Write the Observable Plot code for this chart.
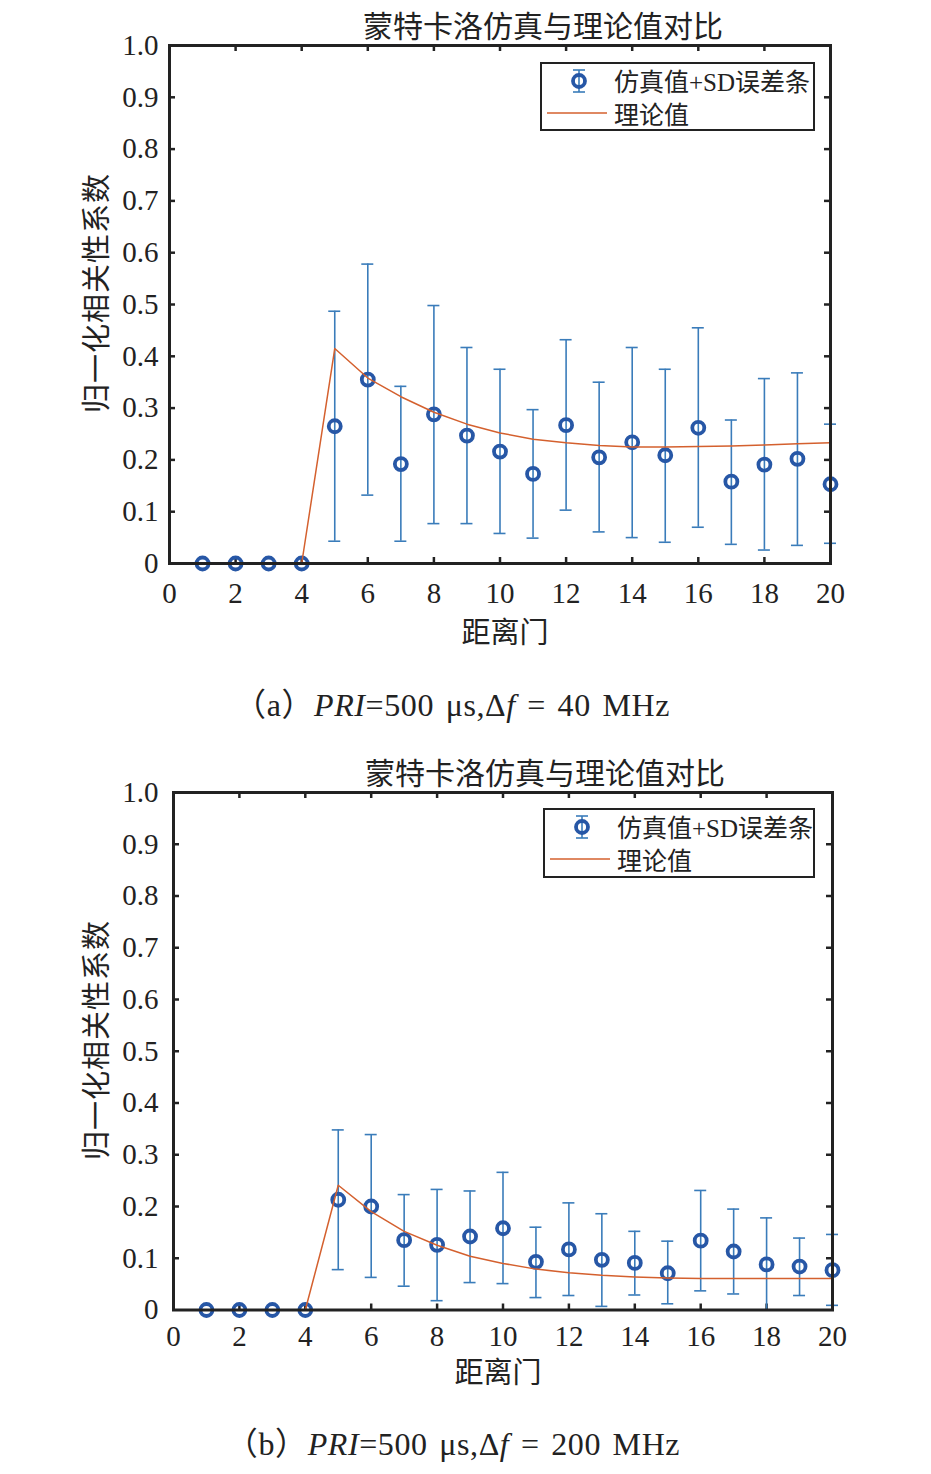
<!DOCTYPE html>
<html>
<head>
<meta charset="utf-8">
<script src="https://cdn.jsdelivr.net/npm/d3@7"></script>
<script src="https://cdn.jsdelivr.net/npm/@observablehq/plot@0.6"></script>
<style>
  html, body { margin: 0; padding: 0; background: #fff; }
  #page { position: relative; width: 931px; height: 1474px; background: #fff; overflow: hidden;
          font-family: 'Liberation Serif', 'Noto Sans CJK SC', serif; color: #222; }
  .abs { position: absolute; white-space: nowrap; line-height: 1; }
  .ctr { transform: translate(-50%, -50%); }
  .cjk { font-family: 'Noto Sans CJK SC', sans-serif; }
  .legend { position: absolute; box-sizing: border-box; border: 2.5px solid #222; background: #fff; }
  .legend .lab { position: absolute; font-size: 25px; line-height: 1; white-space: nowrap; transform: translateY(-50%); }
  .legend svg { position: absolute; left: 0; top: 0; overflow: visible; }
</style>
</head>
<body>
<div id="page"></div>
<script>
// ---------- data ----------
const gates = [1,2,3,4,5,6,7,8,9,10,11,12,13,14,15,16,17,18,19,20];
const xTicks = [0,2,4,6,8,10,12,14,16,18,20];
const yTicks = [0,0.1,0.2,0.3,0.4,0.5,0.6,0.7,0.8,0.9,1.0];
const yTickLabels = ["0","0.1","0.2","0.3","0.4","0.5","0.6","0.7","0.8","0.9","1.0"];

// (a) PRI=500 µs, Δf = 40 MHz
const simA    = [0,0,0,0,0.265,0.355,0.192,0.288,0.247,0.216,0.173,0.267,0.205,0.234,0.209,0.262,0.158,0.191,0.202,0.153];
const hiA     = [0,0,0,0,0.487,0.578,0.342,0.498,0.417,0.375,0.297,0.432,0.350,0.417,0.375,0.455,0.277,0.357,0.368,0.269];
const loA     = [0,0,0,0,0.043,0.132,0.043,0.077,0.077,0.058,0.049,0.103,0.061,0.050,0.041,0.070,0.037,0.026,0.035,0.039];
const theoryA = [0,0,0,0,0.415,0.358,0.322,0.292,0.269,0.252,0.240,0.233,0.228,0.225,0.225,0.226,0.227,0.229,0.231,0.233];

// (b) PRI=500 µs, Δf = 200 MHz
const simB    = [0,0,0,0,0.213,0.200,0.135,0.126,0.142,0.158,0.093,0.117,0.097,0.091,0.071,0.134,0.113,0.088,0.084,0.077];
const hiB     = [0,0,0,0,0.348,0.339,0.223,0.233,0.230,0.266,0.160,0.207,0.186,0.152,0.133,0.231,0.195,0.178,0.139,0.146];
const loB     = [0,0,0,0,0.078,0.063,0.046,0.018,0.053,0.051,0.024,0.028,0.007,0.029,0.012,0.037,0.031,0.000,0.028,0.009];
const theoryB = [0,0,0,0,0.241,0.190,0.152,0.125,0.104,0.090,0.079,0.072,0.067,0.064,0.062,0.061,0.061,0.061,0.061,0.061];

const titleText = "蒙特卡洛仿真与理论值对比";
const xLabel = "距离门";
const yLabel = "归一化相关性系数";
const legendTheory = "理论值";

// ---------- styles ----------
const C_BAR = "#3a7cba";
const C_DOT = "#2757a6";
const C_LINE = "#d4602e";
const C_AX = "#222";
const FONT = "'Liberation Serif', 'Noto Sans CJK SC', serif";

const page = document.getElementById("page");

function addDiv(html, cls, style) {
  const d = document.createElement("div");
  d.className = cls;
  Object.assign(d.style, style);
  d.innerHTML = html;
  page.appendChild(d);
  return d;
}

function panel(cfg) {
  const rows = gates.map((g, i) => ({x: g, m: cfg.sim[i], hi: cfg.hi[i], lo: cfg.lo[i], t: cfg.theory[i]}));
  const bars = rows.filter(d => d.hi > d.lo);
  const W = 931, H = 650;
  const plotW = W - cfg.ml - cfg.mr, plotH = H - cfg.mt - cfg.mb;
  const tx = 6 * 20 / plotW;      // 6px inward tick in x data units
  const ty = 6 / plotH;           // 6px inward tick in y data units
  const cap = 6 * 20 / plotW;     // cap half-width
  const innerX = xTicks.slice(1, -1), innerY = yTicks.slice(1, -1);

  const svg = Plot.plot({
    width: W, height: H,
    marginLeft: cfg.ml, marginRight: cfg.mr, marginTop: cfg.mt, marginBottom: cfg.mb,
    style: {fontFamily: FONT, background: "transparent", color: C_AX, overflow: "visible"},
    x: {domain: [0, 20]},
    y: {domain: [0, 1]},
    marks: [
      Plot.ruleX(innerX, {x: d => d, y1: 0, y2: ty, stroke: C_AX, strokeWidth: 2.5}),
      Plot.ruleX(innerX, {x: d => d, y1: 1, y2: 1 - ty, stroke: C_AX, strokeWidth: 2.5}),
      Plot.ruleY(innerY, {y: d => d, x1: 0, x2: tx, stroke: C_AX, strokeWidth: 2.5}),
      Plot.ruleY(innerY, {y: d => d, x1: 20, x2: 20 - tx, stroke: C_AX, strokeWidth: 2.5}),
      Plot.axisX(xTicks, {tickSize: 0, tickPadding: cfg.xpad, fontSize: 29, label: null, tickFormat: d => String(d)}),
      Plot.axisY(yTicks, {tickSize: 0, tickPadding: cfg.ypad, fontSize: 29, label: null, tickFormat: (d, i) => yTickLabels[i]}),
      Plot.ruleX(bars, {x: "x", y1: "lo", y2: "hi", stroke: C_BAR, strokeWidth: 1.6}),
      Plot.ruleY(bars, {y: "hi", x1: d => d.x - cap, x2: d => d.x + cap, stroke: C_BAR, strokeWidth: 1.6}),
      Plot.ruleY(bars, {y: "lo", x1: d => d.x - cap, x2: d => d.x + cap, stroke: C_BAR, strokeWidth: 1.6}),
      Plot.dot(rows, {x: "x", y: "m", r: 6, stroke: C_DOT, strokeWidth: 3.8, fill: "none"}),
      Plot.line(rows, {x: "x", y: "t", stroke: C_LINE, strokeWidth: 1.5}),
      Plot.frame({stroke: C_AX, strokeWidth: 3})
    ]
  });
  const holder = document.createElement("div");
  holder.style.position = "absolute";
  holder.style.left = "0px";
  holder.style.top = cfg.top + "px";
  holder.appendChild(svg);
  page.appendChild(holder);

  addDiv(titleText, "abs ctr cjk", {left: cfg.title[0] + "px", top: cfg.title[1] + "px", fontSize: "30px"});
  addDiv(xLabel, "abs ctr cjk", {left: cfg.xlab[0] + "px", top: cfg.xlab[1] + "px", fontSize: "29px"});
  addDiv(yLabel, "abs cjk", {left: cfg.ylab[0] + "px", top: cfg.ylab[1] + "px", fontSize: "29px",
    transform: "translate(-50%, -50%) rotate(-90deg)", letterSpacing: "1px"});
  addDiv(cfg.caption, "abs ctr", {left: cfg.cap[0] + "px", top: cfg.cap[1] + "px", fontSize: "32px", wordSpacing: "3px", letterSpacing: "0.6px"});

  const lg = addDiv("", "legend", {left: cfg.leg[0] + "px", top: cfg.leg[1] + "px", width: cfg.leg[2] + "px", height: cfg.leg[3] + "px"});
  lg.innerHTML =
    `<svg width="${cfg.leg[2]}" height="${cfg.leg[3]}">
       <line x1="37" x2="37" y1="6" y2="28" stroke="${C_BAR}" stroke-width="1.6"/>
       <line x1="31" x2="43" y1="6" y2="6" stroke="${C_BAR}" stroke-width="1.6"/>
       <line x1="31" x2="43" y1="28" y2="28" stroke="${C_BAR}" stroke-width="1.6"/>
       <circle cx="37" cy="17" r="6" fill="none" stroke="${C_DOT}" stroke-width="3.8"/>
       <line x1="5" x2="65" y1="49" y2="49" stroke="${C_LINE}" stroke-width="1.5"/>
     </svg>
     <div class="lab" style="left:72px; top:17px;"><span class="cjk">仿真值</span>+SD<span class="cjk">误差条</span></div>
     <div class="lab cjk" style="left:72px; top:49px;">${legendTheory}</div>`;
}

panel({
  top: 0, ml: 169, mr: 101, mt: 45, mb: 87, xpad: 19, ypad: 11,
  sim: simA, hi: hiA, lo: loA, theory: theoryA,
  title: [543, 24], xlab: [505, 630], ylab: [94, 293], cap: [452, 703],
  leg: [540, 62, 275, 69],
  caption: '<span class="cjk">（</span>a<span class="cjk">）</span><i>PRI</i>=500 μs,Δ<i>f</i> = 40 MHz'
});

panel({
  top: 746, ml: 173, mr: 99, mt: 46, mb: 86.5, xpad: 15, ypad: 15,
  sim: simB, hi: hiB, lo: loB, theory: theoryB,
  title: [545, 771], xlab: [498, 1370], ylab: [94, 1040], cap: [453, 1442],
  leg: [543, 808, 272, 70],
  caption: '<span class="cjk">（</span>b<span class="cjk">）</span><i>PRI</i>=500 μs,Δ<i>f</i> = 200 MHz'
});
</script>
</body>
</html>
